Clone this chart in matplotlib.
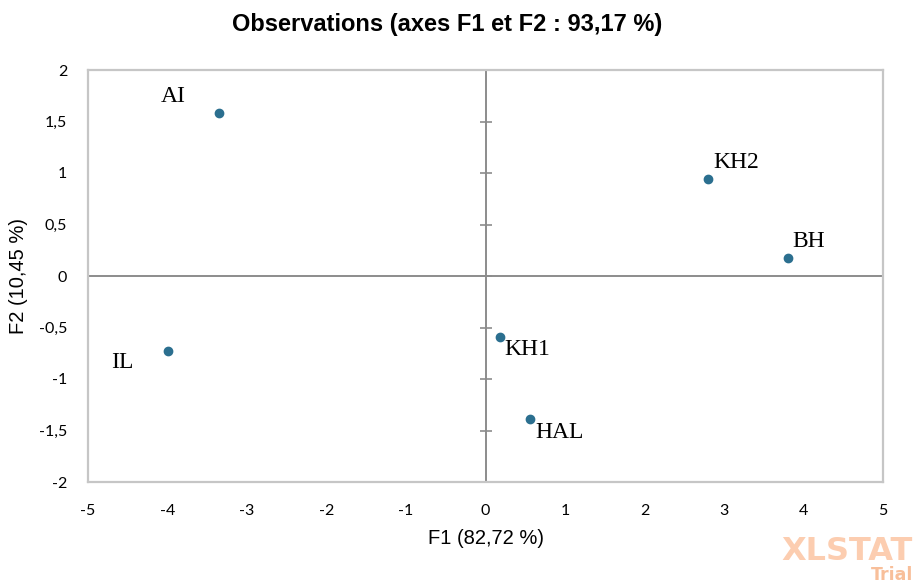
import numpy as np
import matplotlib
matplotlib.use('Agg')
import matplotlib.pyplot as plt

# données
obs = ['AI', 'KH2', 'BH', 'IL', 'KH1', 'HAL']
f1 = [-3.35, 2.80, 3.80, -3.99, 0.18, 0.56]
f2 = [1.58, 0.94, 0.17, -0.73, -0.59, -1.39]

xticks = [-5, -4, -3, -2, -1, 0, 1, 2, 3, 4, 5]
yticks = [-2, -1.5, -1, -0.5, 0, 0.5, 1, 1.5, 2]
ytick_labels = ['-2', '-1,5', '-1', '-0,5', '0', '0,5', '1', '1,5', '2']

# décalage des étiquettes (pixels) et alignement
label_pos = {
    'AI': (-33, 6, 'right', 'bottom'),
    'KH2': (5, 6, 'left', 'bottom'),
    'BH': (5, 6, 'left', 'bottom'),
    'IL': (-35, -1, 'right', 'top'),
    'KH1': (5, -2, 'left', 'top'),
    'HAL': (5, -3, 'left', 'top'),
}

fig = plt.figure(figsize=(9.19, 5.83), dpi=100)
ax = fig.add_axes([88 / 919, 1 - 482 / 583, 795 / 919, 412 / 583])

ax.set_xlim(-5, 5)
ax.set_ylim(-2, 2)
ax.set_xticks(xticks)
ax.set_xticklabels([str(t) for t in xticks])
ax.set_yticks(yticks)
ax.set_yticklabels(ytick_labels)
ax.tick_params(length=0, labelsize=11.5, colors='#000000')
ax.tick_params(axis='x', pad=16)
ax.tick_params(axis='y', pad=15)
for lab in ax.get_xticklabels() + ax.get_yticklabels():
    lab.set_family(['Lato', 'DejaVu Sans'])

for s in ax.spines.values():
    s.set_color('#c6c6c6')
    s.set_linewidth(1.6)

ax.axhline(0, color='#8c8c8c', lw=1.4, zorder=1)
ax.axvline(0, color='#8c8c8c', lw=1.4, zorder=1)
ax.plot(np.zeros(len(yticks)), yticks, ls='none', marker='_', ms=8,
        mew=1.2, color='#8c8c8c', zorder=1, clip_on=False)

ax.plot(f1, f2, ls='none', marker='o', ms=6, color='#2b6f8f', zorder=3)
for name, x, y in zip(obs, f1, f2):
    dx, dy, ha, va = label_pos[name]
    ax.annotate(name, (x, y), xytext=(dx, dy), textcoords='offset pixels',
                ha=ha, va=va, fontsize=17, family='Liberation Serif')

ax.set_xlabel('F1 (82,72 %)', fontsize=14.5, family='Liberation Sans', labelpad=8)
ax.set_ylabel('F2 (10,45 %)', fontsize=14.5, family='Liberation Sans', labelpad=8)

fig.text(447 / 919, 1 - 24 / 583, 'Observations (axes F1 et F2 : 93,17 %)',
         ha='center', va='center', fontsize=17, fontweight='bold',
         family='Liberation Sans')

# filigrane
fig.text(913 / 919, 1 - 560 / 583, 'XLSTAT', ha='right', va='baseline',
         fontsize=23, fontweight='bold', family='DejaVu Sans',
         color='#fccdb0')
fig.text(913 / 919, 1 - 580 / 583, 'Trial', ha='right', va='baseline',
         fontsize=12.5, fontweight='bold', family='DejaVu Sans',
         color='#f8bf9a')

fig.savefig('out.png', dpi=100, facecolor='white')
